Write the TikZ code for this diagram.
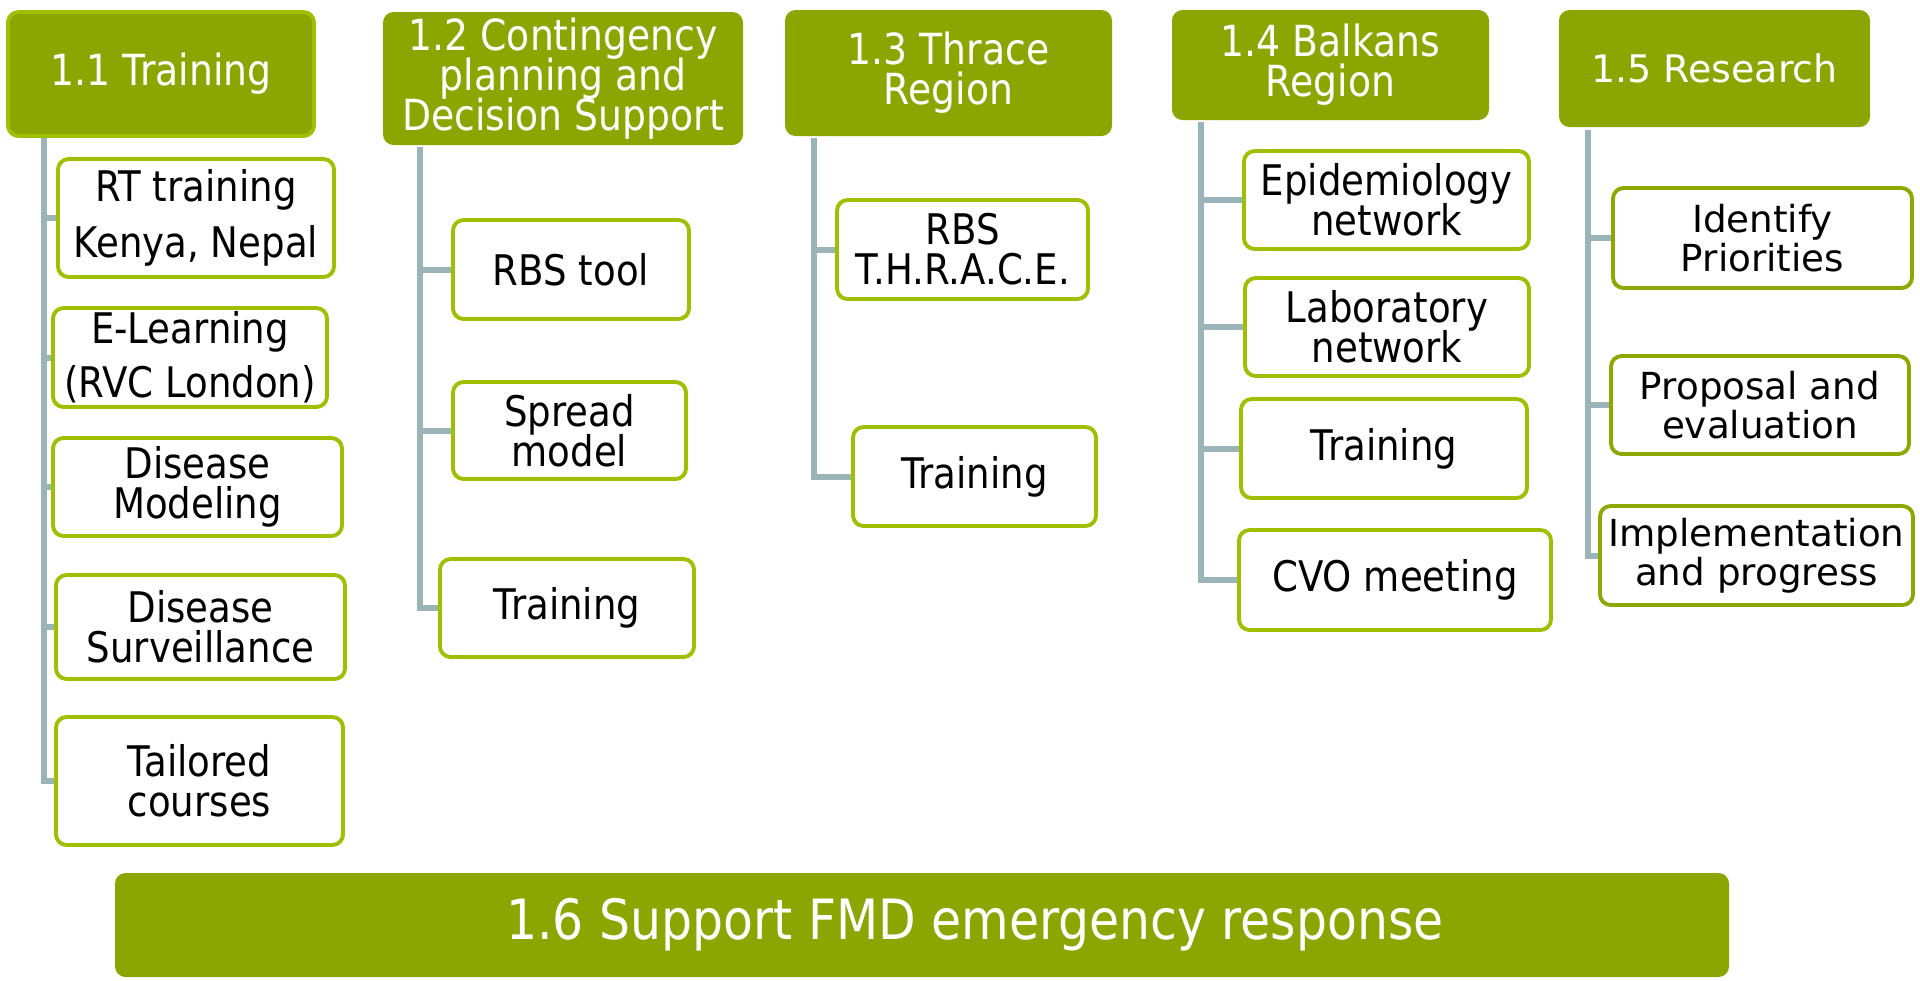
\documentclass[tikz,border=0pt]{standalone}
\usepackage{fontspec}
\setmainfont{DejaVu Sans}
\newfontfamily\narrowfont[FakeStretch=0.88]{DejaVu Sans}
\usetikzlibrary{shapes}
\lineskiplimit=-20pt
\definecolor{headgreen}{RGB}{139,166,0}
\definecolor{subgreen}{RGB}{158,192,0}
\definecolor{darksub}{RGB}{141,168,0}
\definecolor{linegray}{RGB}{154,180,184}
\tikzstyle{head}=[rectangle,rounded corners=3pt,fill=headgreen,text=white,align=center,inner sep=0pt,font=\narrowfont\fontsize{12.2}{11.4}\selectfont]
\tikzstyle{sub}=[rectangle,rounded corners=3pt,draw=subgreen,line width=1.1pt,fill=white,align=center,inner sep=0pt,font=\narrowfont\fontsize{12}{11.4}\selectfont]
\tikzstyle{subw}=[sub,draw=darksub,font=\fontsize{10.6}{11.2}\selectfont]
\tikzstyle{conn}=[draw=linegray,line width=1.7pt]

\begin{document}
\begin{tikzpicture}
		\useasboundingbox (0,0) rectangle (19.2,-9.8);
		% headers
		\node[head,draw=subgreen,line width=1.1pt,minimum width=3.06cm,minimum height=1.24cm] (h1) at (1.61,-0.74) {1.1 Training};
		\node[head,minimum width=3.60cm,minimum height=1.33cm] (h2) at (5.63,-0.785) {1.2 Contingency\\planning and\\Decision Support};
		\node[head,minimum width=3.27cm,minimum height=1.26cm] (h3) at (9.485,-0.73) {1.3 Thrace\\Region};
		\node[head,minimum width=3.17cm,minimum height=1.10cm] (h4) at (13.305,-0.65) {1.4 Balkans\\Region};
		\node[head,font=\fontsize{10.8}{11.4}\selectfont,minimum width=3.11cm,minimum height=1.17cm] (h5) at (17.145,-0.685) {1.5 Research};
		\node[head,font=\narrowfont\fontsize{15.8}{18}\selectfont,minimum width=16.14cm,minimum height=1.04cm] (h6) at (9.22,-9.25) {\hspace*{1.06cm}1.6 Support FMD emergency response};
		% 1.1
		\node[sub,font=\narrowfont\fontsize{12}{16}\selectfont,minimum width=2.76cm,minimum height=1.18cm] (c11) at (1.96,-2.18) {RT training\\Kenya, Nepal};
		\node[sub,font=\narrowfont\fontsize{12}{15.4}\selectfont,minimum width=2.74cm,minimum height=0.99cm] (c12) at (1.90,-3.575) {E-Learning\\(RVC London)};
		\node[sub,minimum width=2.89cm,minimum height=0.98cm] (c13) at (1.975,-4.87) {Disease\\Modeling};
		\node[sub,minimum width=2.89cm,minimum height=1.04cm] (c14) at (2.005,-6.27) {Disease\\Surveillance};
		\node[sub,minimum width=2.87cm,minimum height=1.28cm] (c15) at (1.995,-7.81) {Tailored\\courses};
		% 1.2
		\node[sub,minimum width=2.36cm,minimum height=0.99cm] (c21) at (5.71,-2.695) {RBS tool};
		\node[sub,minimum width=2.33cm,minimum height=0.97cm] (c22) at (5.695,-4.305) {Spread\\model};
		\node[sub,minimum width=2.54cm,minimum height=0.98cm] (c23) at (5.67,-6.08) {Training};
		% 1.3
		\node[sub,minimum width=2.51cm,minimum height=0.99cm] (c31) at (9.625,-2.495) {RBS\\T.H.R.A.C.E.};
		\node[sub,minimum width=2.43cm,minimum height=0.99cm] (c32) at (9.745,-4.765) {Training};
		% 1.4
		\node[sub,minimum width=2.85cm,minimum height=0.98cm] (c41) at (13.865,-2.00) {Epidemiology\\network};
		\node[sub,minimum width=2.84cm,minimum height=0.98cm] (c42) at (13.87,-3.27) {Laboratory\\network};
		\node[sub,minimum width=2.86cm,minimum height=0.99cm] (c43) at (13.84,-4.485) {Training};
		\node[sub,minimum width=3.12cm,minimum height=1.00cm] (c44) at (13.95,-5.80) {CVO meeting};
		% 1.5
		\node[subw,minimum width=2.99cm,minimum height=1.00cm] (c51) at (17.625,-2.38) {Identify\\Priorities};
		\node[subw,minimum width=2.98cm,minimum height=0.98cm] (c52) at (17.60,-4.05) {Proposal and\\evaluation};
		\node[subw,minimum width=3.13cm,minimum height=0.99cm] (c53) at (17.565,-5.555) {Implementation\\and progress};
		% trunks
		\coordinate (t1) at (0.44,-1.38);
		\coordinate (t2) at (4.20,-1.47);
		\coordinate (t3) at (8.14,-1.38);
		\coordinate (t4) at (12.01,-1.22);
		\coordinate (t5) at (15.88,-1.30);
		\foreach \c in {c11,c12,c13,c14,c15} \draw[conn] (t1) |- (\c.west);
		\foreach \c in {c21,c22,c23} \draw[conn] (t2) |- (\c.west);
		\foreach \c in {c31,c32} \draw[conn] (t3) |- (\c.west);
		\foreach \c in {c41,c42,c43,c44} \draw[conn] (t4) |- (\c.west);
		\foreach \c in {c51,c52,c53} \draw[conn] (t5) |- (\c.west);
\end{tikzpicture}
\end{document}
